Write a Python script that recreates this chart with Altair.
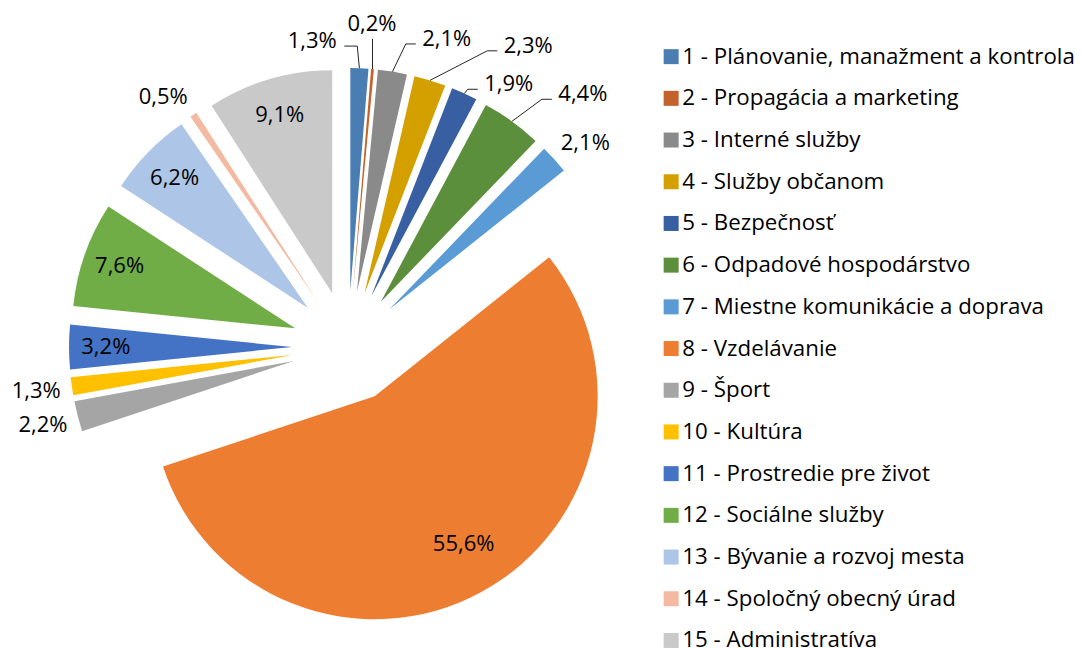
import altair as alt
import pandas as pd

# ---- data ----
names = [
    "1 - Plánovanie, manažment a kontrola",
    "2 - Propagácia a  marketing",
    "3 - Interné služby",
    "4 - Služby občanom",
    "5 - Bezpečnosť",
    "6 - Odpadové hospodárstvo",
    "7 - Miestne komunikácie a doprava",
    "8 - Vzdelávanie",
    "9 - Šport",
    "10 - Kultúra",
    "11 - Prostredie pre život",
    "12 - Sociálne služby",
    "13 - Bývanie a rozvoj mesta",
    "14 - Spoločný obecný úrad",
    "15 - Administratíva",
]
shares = [1.3, 0.2, 2.1, 2.3, 1.9, 4.4, 2.1, 55.6, 2.2, 1.3, 3.2, 7.6, 6.2, 0.5, 9.1]

# ---- styling / label layout ----
colors = [
    "#4A7EB2", "#C4622B", "#8A8A8A", "#D4A000", "#375FA1",
    "#5B8F3B", "#5B9BD5", "#ED7D31", "#A5A5A5", "#FFC000",
    "#4472C4", "#70AD47", "#ADC5E6", "#F4B9A1", "#C9C9C9",
]
label_inside = [0, 0, 0, 0, 0, 0, 0, 1, 0, 0, 1, 1, 1, 0, 1]
label_leader = [1, 1, 1, 1, 1, 1, 0, 0, 0, 0, 0, 0, 0, 0, 0]
label_shift_deg = [-9.0, -0.8, 8.6, 13.8, 6.8, 6.9, 1.6, -2.0, 0, 0, 0, 0, 0, -2.8, 0]
label_shift_r = [-7, 9, 8.5, 36, -7, 30, -2, -14, 0, 0, 0, 0, 0, -4, 0]

CX, CY = 340, 339   # pie centre (plot coordinates)
R = 223             # slice radius
D = 56              # explosion distance
FONT = "Open Sans"
FS = 22

df = pd.DataFrame({
    "name": names,
    "value": shares,
    "idx": list(range(len(names))),
    "inside": label_inside,
    "leader": label_leader,
    "da": label_shift_deg,
    "dr": label_shift_r,
})

base = alt.Chart(df).transform_joinaggregate(
    total="sum(value)"
).transform_window(
    cum="sum(value)", sort=[alt.SortField("idx")], frame=[None, 0]
).transform_calculate(
    t0="(datum.cum - datum.value) / datum.total * 2 * PI",
    t1="datum.cum / datum.total * 2 * PI",
).transform_calculate(
    m="(datum.t0 + datum.t1) / 2",
).transform_calculate(
    ax=f"{CX} + {D} * sin(datum.m)",
    ay=f"{CY} - {D} * cos(datum.m)",
    px=f"{CX} + {D + R} * sin(datum.m)",
    py=f"{CY} - {D + R} * cos(datum.m)",
    lr=f"(datum.inside ? {D} + 0.835 * {R} : {D + R + 36}) + datum.dr",
    la="datum.m + datum.da * PI / 180",
    txt="replace(format(datum.value, '.1f'), '.', ',') + '%'",
).transform_calculate(
    lx="%d + datum.lr * sin(datum.la)" % CX,
    ly="%d - datum.lr * cos(datum.la)" % CY,
).transform_calculate(
    vert="abs(datum.lx - datum.px) < 10",
).transform_calculate(
    hx="datum.vert ? datum.px : (datum.lx > datum.px ? datum.lx - 31 : datum.lx + 32)",
    hy="datum.vert ? datum.ly + 15 : datum.ly + 5",
).transform_calculate(
    ex="datum.vert ? datum.px : (datum.lx > datum.px ? datum.hx - 10 : datum.hx + 13)",
    ey="datum.hy",
)

arcs = base.mark_arc(radius=R).encode(
    x=alt.X("ax:Q", scale=None, axis=None),
    y=alt.Y("ay:Q", scale=None, axis=None),
    theta=alt.Theta("t0:Q", scale=None),
    theta2=alt.Theta2("t1:Q"),
    color=alt.Color(
        "name:N",
        scale=alt.Scale(domain=names, range=colors),
        sort=names,
        legend=alt.Legend(
            title=None,
            orient="none",
            legendX=644,
            legendY=37.5,
            symbolType="square",
            symbolSize=225,
            symbolStrokeWidth=0,
            symbolOffset=8,
            labelFont=FONT,
            labelFontSize=22.3,
            labelColor="#000000",
            labelLimit=0,
            labelOffset=0,
            rowPadding=18.7,
        ),
    ),
)

lines = base.transform_filter("datum.leader == 1")
seg1 = lines.mark_rule(color="#262626", strokeWidth=1).encode(
    x=alt.X("px:Q", scale=None, axis=None),
    y=alt.Y("py:Q", scale=None, axis=None),
    x2="ex:Q",
    y2="ey:Q",
)
seg2 = lines.mark_rule(color="#262626", strokeWidth=1).encode(
    x=alt.X("ex:Q", scale=None, axis=None),
    y=alt.Y("ey:Q", scale=None, axis=None),
    x2="hx:Q",
    y2="hy:Q",
)

texts = base.mark_text(
    font=FONT, fontSize=FS, color="#000000", align="center", baseline="middle"
).encode(
    x=alt.X("lx:Q", scale=None, axis=None),
    y=alt.Y("ly:Q", scale=None, axis=None),
    text="txt:N",
)

chart = alt.layer(arcs, seg1, seg2, texts).properties(
    width=1067,
    height=640,
    padding=0,
    autosize=alt.AutoSizeParams(type="none"),
    background="white",
).configure_view(stroke=None)

chart.save("out.html", embed_options={"renderer": "svg", "actions": False})
